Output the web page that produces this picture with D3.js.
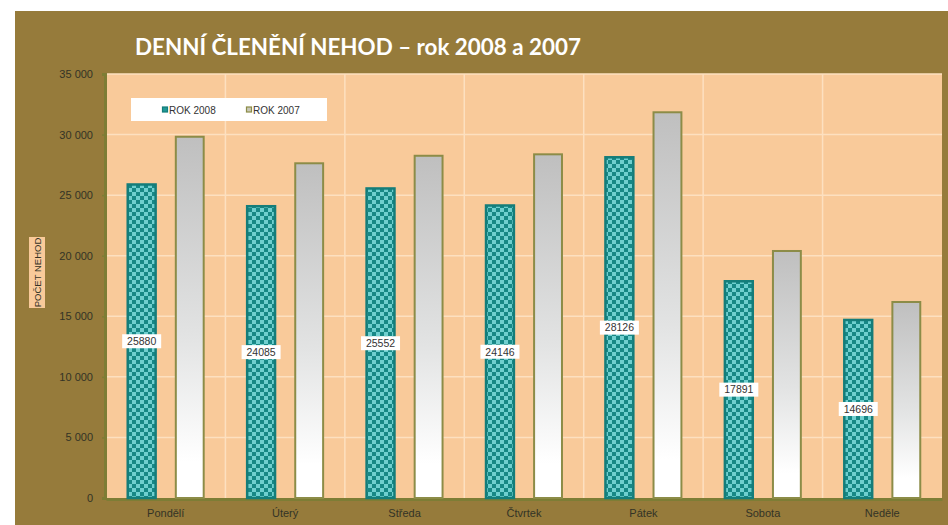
<!DOCTYPE html>
<html>
<head>
<meta charset="utf-8">
<script src="https://cdn.jsdelivr.net/npm/d3@7"></script>
<style>
  body { margin: 0; background: #fff; }
  text { font-family: "Liberation Sans", Arial, sans-serif; }
</style>
</head>
<body>
<div id="chart"></div>
<script>
// data
var days = ["Pondělí", "Úterý", "Středa", "Čtvrtek", "Pátek", "Sobota", "Neděle"];
var values2008 = [25880, 24085, 25552, 24146, 28126, 17891, 14696];
var values2007 = [29820, 27630, 28250, 28370, 31840, 20390, 16180];
var seriesNames = ["ROK 2008", "ROK 2007"];
var yTicks = [0, 5000, 10000, 15000, 20000, 25000, 30000, 35000];

var svgWidth = 948;
var svgHeight = 525;

// plot area
var plot = { left: 106, right: 942, top: 74, bottom: 498 };

var svg = d3.select("#chart").append("svg")
  .attr("width", svgWidth)
  .attr("height", svgHeight);

var defs = svg.append("defs");

// checkerboard for 2008
var pat = defs.append("pattern")
  .attr("id", "checks")
  .attr("patternUnits", "userSpaceOnUse")
  .attr("width", 8).attr("height", 8);
pat.append("rect").attr("width", 8).attr("height", 8).attr("fill", "#6fcfcf");
pat.append("rect").attr("width", 4).attr("height", 4).attr("fill", "#178886");
pat.append("rect").attr("x", 4).attr("y", 4).attr("width", 4).attr("height", 4).attr("fill", "#178886");

// gray gradient for 2007
var grad = defs.append("linearGradient")
  .attr("id", "gray")
  .attr("x1", 0).attr("y1", 0).attr("x2", 0).attr("y2", 1);
grad.append("stop").attr("offset", "0%").attr("stop-color", "#bfbfbf");
grad.append("stop").attr("offset", "55%").attr("stop-color", "#e2e3e3");
grad.append("stop").attr("offset", "90%").attr("stop-color", "#ffffff");

// background
svg.append("rect")
  .attr("x", 15).attr("y", 11)
  .attr("width", svgWidth - 15).attr("height", svgHeight - 11)
  .attr("fill", "#967b3b");

svg.append("rect")
  .attr("x", plot.left).attr("y", plot.top)
  .attr("width", plot.right - plot.left).attr("height", plot.bottom - plot.top)
  .attr("fill", "#f9ca9a");

// title
svg.append("text")
  .attr("x", 135).attr("y", 55)
  .attr("fill", "#ffffff")
  .attr("font-weight", "bold")
  .attr("font-size", 23)
  .attr("textLength", 446)
  .attr("lengthAdjust", "spacingAndGlyphs")
  .style("font-family", "Lato, 'Open Sans', sans-serif")
  .text("DENNÍ ČLENĚNÍ NEHOD – rok 2008 a 2007");

// scales
var x0 = d3.scaleBand()
  .domain(days)
  .range([plot.left, plot.right])
  .paddingInner(0.364)
  .paddingOuter(0.182);

var x1 = d3.scaleBand()
  .domain(seriesNames)
  .range([0, x0.bandwidth()])
  .paddingInner(0.42);

var y = d3.scaleLinear()
  .domain([0, 35000])
  .range([plot.bottom, plot.top]);

// gridlines
svg.append("g").selectAll("line")
  .data(yTicks.slice(1))
  .enter().append("line")
  .attr("x1", plot.left).attr("x2", plot.right)
  .attr("y1", d => y(d)).attr("y2", d => y(d))
  .attr("stroke", "#fde0c0").attr("stroke-width", 1.5);

var step = x0.step();
svg.append("g").selectAll("line")
  .data(days.slice(1))
  .enter().append("line")
  .attr("x1", d => x0(d) - step * x0.paddingOuter())
  .attr("x2", d => x0(d) - step * x0.paddingOuter())
  .attr("y1", plot.top).attr("y2", plot.bottom)
  .attr("stroke", "#fde0c0").attr("stroke-width", 1.5);

// y axis
var fmt = d => d === 0 ? "0" : d3.format(",")(d).replace(",", " ");
var yAxis = svg.append("g")
  .attr("transform", `translate(${plot.left - 1}, 0)`)
  .call(d3.axisLeft(y).tickValues(yTicks).tickFormat(fmt).tickSize(3).tickPadding(9));
yAxis.select(".domain").attr("stroke", "#7d7d35").attr("stroke-width", 3);
yAxis.selectAll(".tick line").attr("stroke", "#7d7d35").attr("stroke-width", 1.5);
yAxis.selectAll(".tick text")
  .attr("fill", "#333326")
  .attr("font-size", 11)
  .style("font-family", "'Liberation Sans', Arial, sans-serif");

// x axis
var xAxis = svg.append("g")
  .attr("transform", `translate(0, ${plot.bottom + 1})`)
  .call(d3.axisBottom(x0).tickSize(0).tickPadding(10).tickSizeOuter(0));
xAxis.select(".domain").attr("stroke", "#7d7d35").attr("stroke-width", 3);
xAxis.selectAll(".tick text")
  .attr("fill", "#333326")
  .attr("font-size", 11)
  .style("font-family", "'Liberation Sans', Arial, sans-serif");

// y axis title
svg.append("rect")
  .attr("x", 29).attr("y", 237)
  .attr("width", 16).attr("height", 71)
  .attr("fill", "#f9ca9a");
svg.append("text")
  .attr("transform", "translate(41, 272.5) rotate(-90)")
  .attr("text-anchor", "middle")
  .attr("font-size", 9.5)
  .attr("fill", "#333326")
  .text("POČET NEHOD");

// bars 2007
svg.append("g").selectAll("rect")
  .data(values2007)
  .enter().append("rect")
  .attr("x", (d, i) => x0(days[i]) + x1("ROK 2007"))
  .attr("y", d => y(d))
  .attr("width", x1.bandwidth())
  .attr("height", d => plot.bottom - y(d))
  .attr("fill", "url(#gray)")
  .attr("stroke", "#8c8c47")
  .attr("stroke-width", 2);

// bars 2008
svg.append("g").selectAll("rect")
  .data(values2008)
  .enter().append("rect")
  .attr("x", (d, i) => x0(days[i]) + x1("ROK 2008"))
  .attr("y", d => y(d))
  .attr("width", x1.bandwidth())
  .attr("height", d => plot.bottom - y(d))
  .attr("fill", "url(#checks)")
  .attr("stroke", "#147d7a")
  .attr("stroke-width", 2.5);

// value labels 2008
var labels = svg.append("g").selectAll("g")
  .data(values2008)
  .enter().append("g")
  .attr("transform", (d, i) => `translate(${x0(days[i]) + x1("ROK 2008") + x1.bandwidth() / 2}, ${(y(d) + plot.bottom) / 2})`);
labels.append("rect")
  .attr("x", -19.5).attr("y", -7)
  .attr("width", 39).attr("height", 14)
  .attr("fill", "#ffffff");
labels.append("text")
  .attr("text-anchor", "middle")
  .attr("dy", "0.36em")
  .attr("font-size", 10.5)
  .attr("fill", "#333333")
  .text(d => d);

// legend
var legend = svg.append("g");
legend.append("rect")
  .attr("x", 131).attr("y", 98)
  .attr("width", 196).attr("height", 23)
  .attr("fill", "#ffffff");
var legendX = [162, 246];
var legendFill = ["#1f9896", "#c8c8b8"];
var legendStroke = ["#147d7a", "#8c8c47"];
seriesNames.forEach(function(name, i) {
  legend.append("rect")
    .attr("x", legendX[i] + 0.5).attr("y", 107)
    .attr("width", 5).attr("height", 5)
    .attr("fill", legendFill[i])
    .attr("stroke", legendStroke[i])
    .attr("stroke-width", 1.2);
  legend.append("text")
    .attr("x", legendX[i] + 7).attr("y", 113.5)
    .attr("font-size", 10)
    .attr("fill", "#333333")
    .text(name);
});
</script>
</body>
</html>
